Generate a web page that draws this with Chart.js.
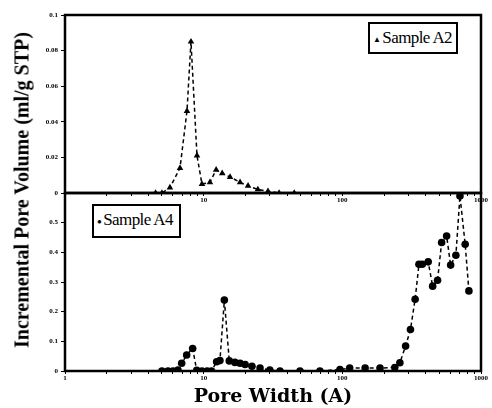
<!DOCTYPE html>
<html>
<head>
<meta charset="utf-8">
<script src="https://cdn.jsdelivr.net/npm/chart.js@4.4.0/dist/chart.umd.min.js"></script>
<style>
  body { margin: 0; background: #fff; }
  #wrap { position: relative; width: 492px; height: 408px; }
  canvas { position: absolute; left: 0; top: 0; }
  .ytitle {
    position: absolute; left: 22px; top: 190px;
    transform: translate(-50%, -50%) rotate(-90deg);
    font: bold 20px "Liberation Serif", serif; white-space: nowrap; color: #000;
  }
  .legend {
    position: absolute; border: 2px solid #000; background: #fff;
    font: 17px "Liberation Serif", serif; color: #000; padding: 4px 3px;
    white-space: nowrap; letter-spacing: -0.6px; box-sizing: border-box;
  }
  .legend span { font-size: 8px; vertical-align: middle; margin-right: 2px; }
</style>
</head>
<body>
<div id="wrap">
  <canvas id="bottomChart" width="492" height="408"></canvas>
  <canvas id="topChart" width="492" height="210"></canvas>
  <div class="ytitle">Incremental Pore Volume (ml/g STP)</div>
  <div class="legend" style="left:368px; top:22px; width:90px; height:32px;"><span>&#9650;</span>Sample A2</div>
  <div class="legend" style="left:92px; top:204px; width:89px; height:34px;"><span>&#9679;</span>Sample A4</div>
</div>
<script>
// Sample A2 (top panel)
const a2Width = [4.5, 5.0, 5.71, 6.75, 7.58, 8.10, 8.95, 9.72, 11.1, 12.3, 13.6, 15.5, 18.3, 20.9, 24.6, 29.1, 35, 45];
const a2Volume = [0, 0, 0.003, 0.014, 0.046, 0.085, 0.021, 0.005, 0.006, 0.013, 0.011, 0.009, 0.006, 0.004, 0.002, 0.001, 0, 0];

// Sample A4 (bottom panel)
const a4Width = [5.0, 5.53, 6.01, 6.53, 6.94, 7.54, 8.33, 8.91, 9.72, 10.6, 11.4, 12.4, 13.1, 14.1, 15.3, 16.8, 18.3, 19.9, 22.3, 25.5, 30, 35.5, 49.5, 68.9, 96.1, 113, 146, 187, 239, 260, 286, 310, 335, 357, 377, 416, 448, 486, 520, 565, 604, 659, 705, 769, 818];
const a4Volume = [0, 0, 0, 0.003, 0.026, 0.054, 0.076, 0.002, 0, 0, 0, 0.031, 0.035, 0.239, 0.034, 0.029, 0.026, 0.022, 0.016, 0.01, 0.003, 0, 0, 0, 0.005, 0.01, 0.01, 0.01, 0.012, 0.028, 0.084, 0.14, 0.242, 0.36, 0.36, 0.368, 0.286, 0.306, 0.433, 0.455, 0.357, 0.39, 0.59, 0.427, 0.27];

// Axis ticks
const xTicks = [1,2,3,4,5,6,7,8,9,10,20,30,40,50,60,70,80,90,100,200,300,400,500,600,700,800,900,1000];
const topXLabels = ["10", "100", "1000"];
const bottomXLabels = ["1", "10", "100", "1000"];
const topYTicks = [0, 0.02, 0.04, 0.06, 0.08, 0.1];
const topYLabels = ["0", "0.02", "0.04", "0.06", "0.08", "0.1"];
const bottomYTicks = [0, 0.1, 0.2, 0.3, 0.4, 0.5, 0.6];
const bottomYLabels = ["0", "0.1", "0.2", "0.3", "0.4", "0.5", ""];

const tickFont = { family: "Liberation Serif", size: 7, weight: "bold" };

// frame round the plot area
const frame = {
  id: "frame",
  afterDraw(chart) {
    const a = chart.chartArea, ctx = chart.ctx;
    ctx.save();
    ctx.strokeStyle = "#000";
    ctx.lineWidth = 2.5;
    ctx.strokeRect(a.left, a.top, a.right - a.left, a.bottom - a.top);
    ctx.restore();
  }
};

function xScale(labels, height, title) {
  return {
    type: "logarithmic",
    min: 1,
    max: 1000,
    afterBuildTicks: (s) => { s.ticks = xTicks.map((v) => ({ value: v })); },
    afterFit: (s) => { s.height = height; },
    ticks: {
      autoSkip: false,
      maxRotation: 0,
      padding: 0,
      color: "#000",
      font: tickFont,
      callback: (v) => (labels.includes(String(v)) ? String(v) : ""),
    },
    grid: { drawOnChartArea: false, color: "#000", tickLength: 3 },
    border: { display: false },
    title: title
      ? { display: true, text: title, color: "#000", padding: 0,
          font: { family: "DejaVu Serif", size: 19, weight: "bold" } }
      : { display: false },
  };
}

function yScale(ticks, labels, max) {
  return {
    min: 0,
    max: max,
    afterBuildTicks: (s) => { s.ticks = ticks.map((v) => ({ value: v })); },
    afterFit: (s) => { s.width = 40; },
    ticks: {
      padding: 3,
      color: "#000",
      font: tickFont,
      callback: (v) => labels[ticks.indexOf(v)] ?? "",
    },
    grid: { drawOnChartArea: false, color: "#000", tickLength: 4 },
    border: { display: false },
  };
}

function lineSet(xs, ys, style, radius) {
  return {
    data: xs.map((x, i) => ({ x: x, y: ys[i] })),
    borderColor: "#000",
    backgroundColor: "#000",
    borderWidth: 1.5,
    borderDash: [4, 3],
    pointStyle: style,
    pointRadius: radius,
    pointBorderWidth: 0,
    pointBackgroundColor: "#000",
    tension: 0,
  };
}

const bottomChart = new Chart(document.getElementById("bottomChart"), {
  type: "line",
  data: { datasets: [lineSet(a4Width, a4Volume, "circle", 3.8)] },
  options: {
    responsive: false,
    animation: false,
    layout: { padding: { left: 25, right: 11, top: 193, bottom: 0 } },
    scales: {
      x: xScale(bottomXLabels, 37, "Pore Width (A)"),
      y: yScale(bottomYTicks, bottomYLabels, 0.6),
    },
    plugins: { legend: { display: false }, tooltip: { enabled: false } },
  },
  plugins: [frame],
});

const topChart = new Chart(document.getElementById("topChart"), {
  type: "line",
  data: { datasets: [lineSet(a2Width, a2Volume, "triangle", 3.8)] },
  options: {
    responsive: false,
    animation: false,
    layout: { padding: { left: 25, right: 11, top: 15, bottom: 0 } },
    scales: {
      x: xScale(topXLabels, 17, null),
      y: yScale(topYTicks, topYLabels, 0.1),
    },
    plugins: { legend: { display: false }, tooltip: { enabled: false } },
  },
  plugins: [frame],
});
</script>
</body>
</html>
